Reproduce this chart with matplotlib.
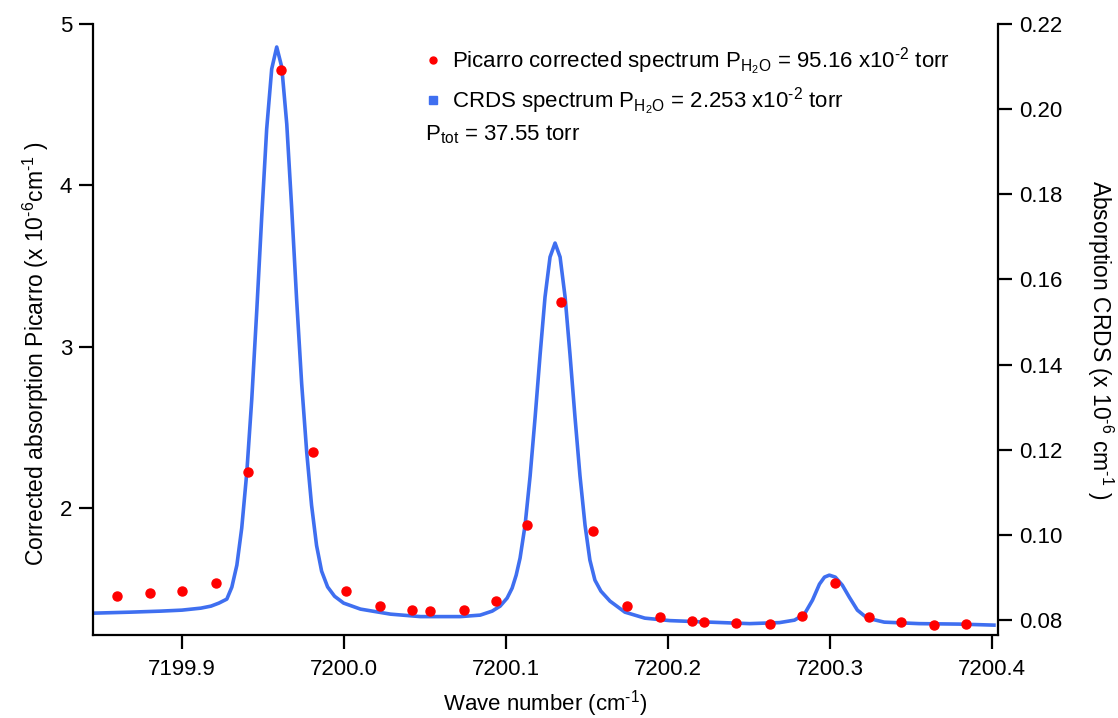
import matplotlib
matplotlib.use("Agg")
import matplotlib.pyplot as plt
from matplotlib.lines import Line2D
from matplotlib.ticker import FormatStrFormatter, FixedLocator

plt.rcParams['font.family'] = ['Liberation Sans', 'DejaVu Sans']
plt.rcParams['mathtext.fontset'] = 'custom'
plt.rcParams['mathtext.rm'] = 'Liberation Sans'
plt.rcParams['mathtext.it'] = 'Liberation Sans:italic'
plt.rcParams['mathtext.bf'] = 'Liberation Sans:bold'

# Picarro corrected spectrum (left axis, x10^-6 cm^-1)
picarro_x = [7199.860, 7199.880, 7199.900, 7199.921, 7199.941, 7199.961, 7199.981,
             7200.001, 7200.022, 7200.042, 7200.053, 7200.074, 7200.094, 7200.113,
             7200.134, 7200.154, 7200.175, 7200.195, 7200.215, 7200.222, 7200.242,
             7200.263, 7200.283, 7200.303, 7200.324, 7200.344, 7200.364, 7200.384]
picarro_y = [1.456, 1.472, 1.483, 1.534, 2.223, 4.715, 2.347,
             1.485, 1.392, 1.367, 1.363, 1.365, 1.421, 1.894,
             3.276, 1.857, 1.394, 1.322, 1.299, 1.294, 1.286,
             1.282, 1.328, 1.534, 1.324, 1.291, 1.274, 1.280]

# CRDS spectrum (right axis, x10^-6 cm^-1)
crds_x = [7199.8464, 7199.8686, 7199.8871, 7199.9000, 7199.9117, 7199.9179, 7199.9228,
          7199.9277, 7199.9308, 7199.9339, 7199.9369, 7199.9400, 7199.9431, 7199.9462,
          7199.9493, 7199.9523, 7199.9554, 7199.9585, 7199.9616, 7199.9647, 7199.9677,
          7199.9708, 7199.9739, 7199.9770, 7199.9800, 7199.9831, 7199.9862, 7199.9899,
          7199.9942, 7199.9998, 7200.0102, 7200.0287, 7200.0472, 7200.0718, 7200.0841,
          7200.0915, 7200.0964, 7200.1007, 7200.1038, 7200.1063, 7200.1087, 7200.1118,
          7200.1149, 7200.1180, 7200.1211, 7200.1241, 7200.1272, 7200.1303, 7200.1334,
          7200.1365, 7200.1395, 7200.1426, 7200.1457, 7200.1488, 7200.1518, 7200.1549,
          7200.1586, 7200.1642, 7200.1734, 7200.1857, 7200.2011, 7200.2257, 7200.2504,
          7200.2688, 7200.2781, 7200.2842, 7200.2892, 7200.2935, 7200.2966, 7200.2996,
          7200.3033, 7200.3076, 7200.3119, 7200.3169, 7200.3230, 7200.3335, 7200.3550,
          7200.3797, 7200.4012]
crds_y = [0.08164, 0.08187, 0.08211, 0.08234, 0.08281, 0.08328, 0.08399,
          0.08493, 0.08775, 0.09291, 0.10161, 0.11453, 0.13191, 0.15282,
          0.17513, 0.19533, 0.20943, 0.21460, 0.20990, 0.19650, 0.17700,
          0.15520, 0.13550, 0.11950, 0.10700, 0.09750, 0.09150, 0.08780,
          0.08560, 0.08399, 0.08258, 0.08140, 0.08082, 0.08082, 0.08117,
          0.08211, 0.08328, 0.08516, 0.08751, 0.09056, 0.09456, 0.10231,
          0.11382, 0.12768, 0.14248, 0.15587, 0.16527, 0.16855, 0.16527,
          0.15587, 0.14248, 0.12768, 0.11382, 0.10231, 0.09409, 0.08939,
          0.08680, 0.08446, 0.08187, 0.08046, 0.07988, 0.07952, 0.07917,
          0.07941, 0.07999, 0.08140, 0.08469, 0.08845, 0.09009, 0.09056,
          0.09009, 0.08821, 0.08540, 0.08234, 0.08046, 0.07952, 0.07917,
          0.07906, 0.07882]

x_ticks = [7199.9, 7200.0, 7200.1, 7200.2, 7200.3, 7200.4]
left_ticks = [2, 3, 4, 5]
right_ticks = [0.08, 0.10, 0.12, 0.14, 0.16, 0.18, 0.20, 0.22]

RED = '#ff0000'
BLUE = '#3f6ff0'
FS = 16
YFS = 16.5
LFS = 16
HY = '\u2010'  # short hyphen used in the exponents

fig = plt.figure(figsize=(11.18, 7.18), dpi=100)
ax = fig.add_axes([93/1118, 1-635/718, (998-93)/1118, (635-24)/718])
ax2 = ax.twinx()

ax2.plot(crds_x, crds_y, color=BLUE, lw=2.6, solid_joinstyle='round')
ax.plot(picarro_x, picarro_y, 'o', color=RED, ms=6.5, mec=RED)

ax.set_zorder(ax2.get_zorder() + 1)
ax.patch.set_visible(False)

ax.set_xlim(7199.8451, 7200.4037)
ax.set_ylim(1.213, 5.0)
ax2.set_ylim(0.0765, 0.22)

ax.xaxis.set_major_locator(FixedLocator(x_ticks))
ax.xaxis.set_major_formatter(FormatStrFormatter('%.1f'))
ax.yaxis.set_major_locator(FixedLocator(left_ticks))
ax.yaxis.set_major_formatter(FormatStrFormatter('%d'))
ax2.yaxis.set_major_locator(FixedLocator(right_ticks))
ax2.yaxis.set_major_formatter(FormatStrFormatter('%.2f'))

for a in (ax, ax2):
    a.spines['top'].set_visible(False)
    for s in ('left', 'right', 'bottom'):
        a.spines[s].set_linewidth(1.6)
    a.tick_params(direction='out', length=10, width=1.6, labelsize=FS, pad=5)
ax.tick_params(axis='x', pad=7)
ax.spines['right'].set_visible(False)
ax2.spines['left'].set_visible(False)
ax2.spines['bottom'].set_visible(False)

sup = lambda s: '$^{\\mathregular{' + s + '}}$'
ax.set_xlabel('Wave number (cm' + sup(HY + '1') + ')', fontsize=FS, labelpad=6)
ax.set_ylabel('Corrected absorption Picarro (x 10' + sup(HY + '6') + 'cm' + sup(HY + '1') + ' )',
              fontsize=YFS)
ax.yaxis.set_label_coords(-0.046, 0.46)
ax2.set_ylabel('Absorption CRDS (x 10' + sup(HY + '6') + ' cm' + sup(HY + '1') + ' )', fontsize=YFS,
               rotation=-90, va='center')
ax2.yaxis.set_label_coords(1.113, 0.483)

# legend block
fig.add_artist(Line2D([433/1118], [1-60/718], transform=fig.transFigure, marker='o',
                      color=RED, ms=5, ls='none'))
fig.add_artist(Line2D([433/1118], [1-100/718], transform=fig.transFigure, marker='s',
                      color=BLUE, ms=5.5, ls='none'))
sub_h2o = '$_{\\mathregular{H_2O}}$'
fig.text(452/1118, 1-68/718,
         'Picarro corrected spectrum P' + sub_h2o + ' = 95.16 x10' + sup(HY + '2') + ' torr',
         fontsize=LFS, va='baseline', ha='left')
fig.text(452/1118, 1-108/718,
         'CRDS spectrum P' + sub_h2o + ' = 2.253 x10' + sup(HY + '2') + ' torr',
         fontsize=LFS, va='baseline', ha='left')
fig.text(425/1118, 1-140/718, 'P$_{\\mathregular{tot}}$ = 37.55 torr',
         fontsize=LFS, va='baseline', ha='left')

fig.savefig('out.png', dpi=100)
